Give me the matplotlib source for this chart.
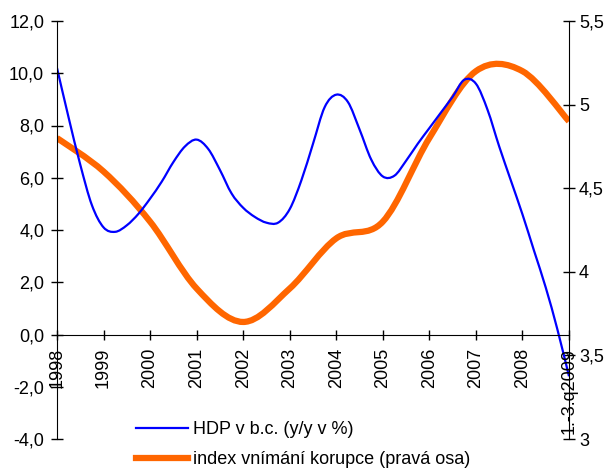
import numpy as np
import matplotlib
matplotlib.use('Agg')
import matplotlib.pyplot as plt
from matplotlib.path import Path
from matplotlib.patches import PathPatch
from matplotlib.lines import Line2D

plt.rcParams['font.family'] = ['Liberation Sans', 'DejaVu Sans']
plt.rcParams['font.size'] = 13

# popisky os x (jeden tick na každý rok, data čtvrtletní)
years = ['1998', '1999', '2000', '2001', '2002', '2003', '2004',
         '2005', '2006', '2007', '2008', '1.-3.q2009']

# HDP v b.c. (y/y v %) - čtvrtletně, 1998Q1 .. 2009Q1
hdp = [10.2, 8.3, 6.5, 4.95,
       4.1, 3.93, 4.18, 4.62,
       5.2, 5.85, 6.6, 7.2,
       7.46, 7.1, 6.3, 5.4,
       4.85, 4.5, 4.28, 4.28,
       4.8, 5.9, 7.3, 8.7,
       9.18, 8.9, 7.85, 6.7,
       6.05, 6.08, 6.65, 7.3,
       7.9, 8.5, 9.1, 9.75,
       9.6, 8.6, 7.2, 5.9,
       4.6, 3.2, 1.8, 0.2,
       -1.6]

# index vnímání korupce (pravá osa) - ročně
cpi = [4.8, 4.6, 4.3, 3.9, 3.7, 3.9, 4.2, 4.3, 4.8, 5.2, 5.2, 4.9]

left_ticks = [12, 10, 8, 6, 4, 2, 0, -2, -4]
right_ticks = [5.5, 5, 4.5, 4, 3.5, 3]


def smooth_path(x, y):
    # vyhlazena cara jako v Excelu (Bezier, 1/6 tecny)
    pts = np.column_stack([np.asarray(x, float), np.asarray(y, float)])
    prev = np.vstack([pts[:1], pts[:-1]])
    nxt = np.vstack([pts[1:], pts[-1:]])
    tang = (nxt - prev) / 6.0
    verts = [pts[0]]
    codes = [Path.MOVETO]
    for i in range(len(pts) - 1):
        verts += [pts[i] + tang[i], pts[i + 1] - tang[i + 1], pts[i + 1]]
        codes += [Path.CURVE4] * 3
    return Path(verts, codes)


def dec(v):
    return ('%g' % v).replace('.', ',')


fig = plt.figure(figsize=(6.11, 4.70), dpi=100)
ax = fig.add_axes([57 / 611, 1 - 439 / 470, 512 / 611, 418 / 470])
ax2 = ax.twinx()

q_hdp = np.arange(len(hdp))
q_cpi = np.arange(len(cpi)) * 4

ax.add_patch(PathPatch(smooth_path(q_hdp, hdp), facecolor='none',
                       edgecolor='#0000ff', lw=1.6, capstyle='butt'))
ax2.add_patch(PathPatch(smooth_path(q_cpi, cpi), facecolor='none',
                        edgecolor='#ff6600', lw=4.5, capstyle='butt'))

ax.set_xlim(0, 44)
ax.set_ylim(-4, 12)
ax2.set_ylim(3, 5.5)

ax.set_zorder(ax2.get_zorder() + 1)
ax.patch.set_visible(False)

# osy
for s in ['top', 'right']:
    ax.spines[s].set_visible(False)
ax.spines['bottom'].set_position(('data', 0))
for s in ['top', 'bottom', 'left']:
    ax2.spines[s].set_visible(False)

ax.set_xticks(q_cpi)
ax.set_xticklabels(years, rotation=90, va='top', ha='center')
ax.tick_params(axis='x', direction='inout', length=7.5, width=1, pad=6)

ax.set_yticks(left_ticks)
ax.set_yticklabels([('%.1f' % v).replace('.', ',') for v in left_ticks])
ax.tick_params(axis='y', direction='inout', length=8.5, width=1, pad=5)

ax2.set_yticks(right_ticks)
ax2.set_yticklabels([dec(v) for v in right_ticks])
ax2.tick_params(axis='y', direction='inout', length=8.5, width=1, pad=3)

handles = [Line2D([], [], color='#0000ff', lw=1.6),
           Line2D([], [], color='#ff6600', lw=4.5)]
fig.legend(handles, ['HDP v b.c. (y/y v %)', 'index vnímání korupce (pravá osa)'],
           loc='center left', bbox_to_anchor=(136 / 611, 25 / 470),
           frameon=False, handlelength=2.9, handletextpad=0.25,
           labelspacing=0.72, borderpad=0, borderaxespad=0)

fig.savefig('out.png', dpi=100)
